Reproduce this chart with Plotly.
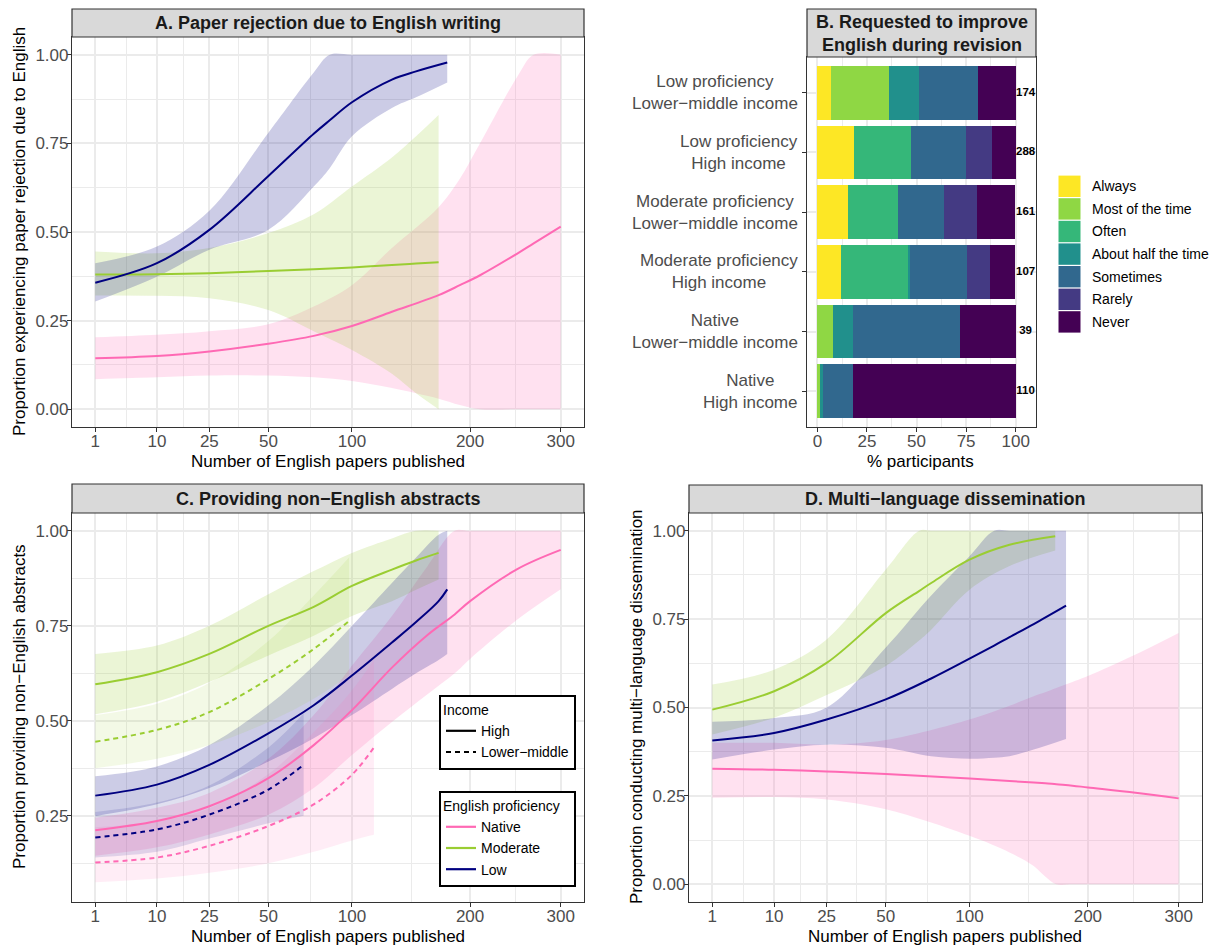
import numpy as np
import plotly.graph_objects as go

W, H = 1215, 947
FONT = "Liberation Sans, Arial, Helvetica, sans-serif"

# ---------------- colours ----------------
NATIVE_RGB, MOD_RGB, LOW_RGB = "255,105,180", "154,205,50", "0,0,128"
NATIVE_C, MOD_C, LOW_C = "#FF69B4", "#9ACD32", "#000080"

# ---------------- Panel A: paper rejection ----------------
a_low_x  = [1, 10, 25, 50, 75, 85, 100, 130, 150, 178]
a_low_y  = [0.357, 0.412, 0.506, 0.658, 0.777, 0.815, 0.866, 0.93, 0.953, 0.978]
a_low_hi = [0.412, 0.459, 0.56, 0.78, 0.95, 1.0, 1.0, 1.0, 1.0, 1.0]
a_low_lo = [0.304, 0.374, 0.45, 0.506, 0.628, 0.68, 0.77, 0.85, 0.88, 0.922]

a_mod_x  = [1, 10, 25, 50, 75, 100, 130, 150, 170]
a_mod_y  = [0.38, 0.381, 0.384, 0.39, 0.395, 0.40, 0.407, 0.411, 0.415]
a_mod_hi = [0.445, 0.44, 0.455, 0.497, 0.55, 0.628, 0.71, 0.77, 0.83]
a_mod_lo = [0.321, 0.32, 0.313, 0.28, 0.22, 0.167, 0.10, 0.045, 0.0]

a_nat_x  = [1, 10, 25, 50, 75, 100, 130, 170, 190, 210, 250, 268, 300]
a_nat_y  = [0.144, 0.15, 0.163, 0.185, 0.207, 0.235, 0.275, 0.322, 0.35, 0.378, 0.44, 0.468, 0.515]
a_nat_hi = [0.203, 0.21, 0.22, 0.24, 0.29, 0.35, 0.455, 0.57, 0.65, 0.75, 0.94, 1.0, 1.0]
a_nat_lo = [0.085, 0.09, 0.095, 0.095, 0.09, 0.08, 0.06, 0.03, 0.012, 0.0, 0.0, 0.0, 0.0]

# ---------------- Panel B: requested to improve English ----------------
b_categories = ["Low proficiency<br>Lower\u2212middle income", "Low proficiency<br>High income",
                "Moderate proficiency<br>Lower\u2212middle income", "Moderate proficiency<br>High income",
                "Native<br>Lower\u2212middle income", "Native<br>High income"]
b_n = [174, 288, 161, 107, 39, 110]
b_responses = ["Always", "Most of the time", "Often", "About half the time", "Sometimes", "Rarely", "Never"]
b_colors = ["#FDE725", "#8FD744", "#35B779", "#21908C", "#31688E", "#443A83", "#440154"]
b_always = [6.9, 18.4, 15.2, 12.1, 0.0, 0.0]
b_most   = [29.3, 0.0, 0.0, 0.0, 7.7, 1.8]
b_often  = [0.0, 28.7, 25.3, 33.6, 0.0, 0.0]
b_half   = [14.9, 0.0, 0.0, 0.9, 10.3, 0.9]
b_some   = [29.9, 27.7, 23.2, 29.0, 53.8, 15.5]
b_rarely = [0.0, 13.1, 16.6, 11.2, 0.0, 0.0]
b_never  = [19.0, 12.1, 19.6, 13.1, 28.2, 81.8]

# ---------------- Panel C: non-English abstracts ----------------
c_modh_x  = [1, 10, 25, 50, 75, 100, 130, 150, 170]
c_modh_y  = [0.596, 0.628, 0.676, 0.75, 0.80, 0.855, 0.898, 0.922, 0.942]
c_modh_hi = [0.676, 0.698, 0.75, 0.833, 0.894, 0.942, 0.98, 1.0, 1.0]
c_modh_lo = [0.517, 0.55, 0.602, 0.672, 0.724, 0.776, 0.815, 0.845, 0.872]

c_modl_x  = [1, 10, 25, 50, 75, 98]
c_modl_y  = [0.445, 0.476, 0.523, 0.61, 0.689, 0.763]
c_modl_hi = [0.515, 0.545, 0.60, 0.71, 0.83, 0.93]
c_modl_lo = [0.375, 0.40, 0.436, 0.497, 0.558, 0.62]

c_lowh_x  = [1, 10, 25, 50, 75, 100, 130, 150, 170, 178]
c_lowh_y  = [0.303, 0.332, 0.384, 0.467, 0.541, 0.619, 0.706, 0.76, 0.815, 0.846]
c_lowh_hi = [0.354, 0.38, 0.436, 0.541, 0.645, 0.75, 0.863, 0.93, 0.99, 1.0]
c_lowh_lo = [0.249, 0.28, 0.323, 0.393, 0.454, 0.515, 0.584, 0.625, 0.66, 0.676]

c_lowl_x  = [1, 10, 25, 50, 69]
c_lowl_y  = [0.193, 0.214, 0.253, 0.319, 0.384]
c_lowl_hi = [0.26, 0.285, 0.33, 0.43, 0.52]
c_lowl_lo = [0.14, 0.155, 0.19, 0.23, 0.25]

c_nath_x  = [1, 10, 25, 50, 75, 100, 130, 160, 185, 200, 250, 300]
c_nath_y  = [0.212, 0.236, 0.275, 0.349, 0.436, 0.528, 0.64, 0.726, 0.78, 0.815, 0.9, 0.95]
c_nath_hi = [0.245, 0.271, 0.31, 0.40, 0.515, 0.645, 0.776, 0.907, 1.0, 1.0, 1.0, 1.0]
c_nath_lo = [0.145, 0.167, 0.201, 0.253, 0.323, 0.41, 0.497, 0.57, 0.625, 0.663, 0.767, 0.846]

c_natl_x  = [1, 10, 25, 50, 75, 100, 116]
c_natl_y  = [0.127, 0.14, 0.171, 0.223, 0.28, 0.358, 0.43]
c_natl_hi = [0.22, 0.235, 0.27, 0.36, 0.47, 0.58, 0.66]
c_natl_lo = [0.075, 0.085, 0.10, 0.125, 0.155, 0.185, 0.20]

# ---------------- Panel D: multi-language dissemination ----------------
d_mod_x  = [1, 10, 25, 50, 68, 75, 100, 130, 169]
d_mod_y  = [0.494, 0.546, 0.626, 0.767, 0.83, 0.852, 0.918, 0.96, 0.984]
d_mod_hi = [0.565, 0.607, 0.692, 0.89, 1.0, 1.0, 1.0, 1.0, 1.0]
d_mod_lo = [0.424, 0.471, 0.535, 0.617, 0.69, 0.72, 0.833, 0.9, 0.944]

d_low_x  = [1, 10, 25, 50, 75, 100, 118, 130, 150, 179]
d_low_y  = [0.407, 0.428, 0.466, 0.523, 0.582, 0.638, 0.675, 0.699, 0.736, 0.788]
d_low_hi = [0.46, 0.47, 0.50, 0.67, 0.817, 0.928, 1.0, 1.0, 1.0, 1.0]
d_low_lo = [0.353, 0.381, 0.395, 0.386, 0.362, 0.355, 0.358, 0.362, 0.381, 0.411]

d_nat_x  = [1, 10, 25, 50, 100, 130, 150, 160, 170, 185, 200, 250, 300]
d_nat_y  = [0.327, 0.324, 0.319, 0.312, 0.299, 0.292, 0.288, 0.286, 0.283, 0.279, 0.274, 0.259, 0.243]
d_nat_hi = [0.40, 0.40, 0.395, 0.408, 0.466, 0.505, 0.532, 0.543, 0.555, 0.572, 0.589, 0.65, 0.711]
d_nat_lo = [0.245, 0.247, 0.24, 0.212, 0.137, 0.09, 0.052, 0.022, 0.0, 0.0, 0.0, 0.0, 0.0]

# ---------------- axis ticks ----------------
x_ticks = [1, 10, 25, 50, 100, 200, 300]
x_ticklabels = ["1", "10", "25", "50", "100", "200", "300"]
y_ticks_full = [0.0, 0.25, 0.5, 0.75, 1.0]
y_ticks_c = [0.25, 0.5, 0.75, 1.0]

# ---------------- helpers ----------------
def px(x):
    return x / W


def py(y):
    return 1 - y / H


fig = go.Figure()
SMOOTH = 1.0


def ribbon(x, lo, hi, rgb, alpha, xa, ya):
    sx = np.sqrt(np.array(x, dtype=float))
    fig.add_trace(go.Scatter(x=sx, y=lo, mode="lines", xaxis=xa, yaxis=ya,
                             line=dict(width=0, shape="spline", smoothing=SMOOTH),
                             hoverinfo="skip", showlegend=False))
    fig.add_trace(go.Scatter(x=sx, y=hi, mode="lines", xaxis=xa, yaxis=ya, fill="tonexty",
                             fillcolor=f"rgba({rgb},{alpha})",
                             line=dict(width=0, shape="spline", smoothing=SMOOTH),
                             hoverinfo="skip", showlegend=False))


def curve(x, y, color, xa, ya, dash="solid"):
    sx = np.sqrt(np.array(x, dtype=float))
    fig.add_trace(go.Scatter(x=sx, y=y, mode="lines", xaxis=xa, yaxis=ya,
                             line=dict(color=color, width=2, shape="spline", smoothing=SMOOTH, dash=dash),
                             showlegend=False))


DASH = "5px,4px"

# Panel A
ribbon(a_nat_x, a_nat_lo, a_nat_hi, NATIVE_RGB, 0.2, "x", "y")
ribbon(a_mod_x, a_mod_lo, a_mod_hi, MOD_RGB, 0.2, "x", "y")
ribbon(a_low_x, a_low_lo, a_low_hi, LOW_RGB, 0.2, "x", "y")
curve(a_nat_x, a_nat_y, NATIVE_C, "x", "y")
curve(a_mod_x, a_mod_y, MOD_C, "x", "y")
curve(a_low_x, a_low_y, LOW_C, "x", "y")

# Panel B
b_series = [b_always, b_most, b_often, b_half, b_some, b_rarely, b_never]
for name, col, vals in zip(b_responses, b_colors, b_series):
    fig.add_trace(go.Bar(x=vals, y=b_categories, orientation="h", name=name,
                         marker=dict(color=col, line=dict(width=0)), width=0.9,
                         xaxis="x2", yaxis="y2", showlegend=False))
fig.add_trace(go.Scatter(x=[105] * len(b_n), y=b_categories, mode="text",
                         text=[str(v) for v in b_n], texttemplate="<b>%{text}</b>",
                         textfont=dict(size=11.5, color="black", family=FONT),
                         xaxis="x2", yaxis="y2", showlegend=False, cliponaxis=False))

# Panel C
ribbon(c_nath_x, c_nath_lo, c_nath_hi, NATIVE_RGB, 0.2, "x3", "y3")
ribbon(c_modh_x, c_modh_lo, c_modh_hi, MOD_RGB, 0.2, "x3", "y3")
ribbon(c_lowh_x, c_lowh_lo, c_lowh_hi, LOW_RGB, 0.2, "x3", "y3")
ribbon(c_natl_x, c_natl_lo, c_natl_hi, NATIVE_RGB, 0.12, "x3", "y3")
ribbon(c_modl_x, c_modl_lo, c_modl_hi, MOD_RGB, 0.12, "x3", "y3")
ribbon(c_lowl_x, c_lowl_lo, c_lowl_hi, LOW_RGB, 0.12, "x3", "y3")
curve(c_nath_x, c_nath_y, NATIVE_C, "x3", "y3")
curve(c_modh_x, c_modh_y, MOD_C, "x3", "y3")
curve(c_lowh_x, c_lowh_y, LOW_C, "x3", "y3")
curve(c_natl_x, c_natl_y, NATIVE_C, "x3", "y3", DASH)
curve(c_modl_x, c_modl_y, MOD_C, "x3", "y3", DASH)
curve(c_lowl_x, c_lowl_y, LOW_C, "x3", "y3", DASH)

# legends for panel C (dummy entries)
for nm, dsh in [("High", "solid"), ("Lower\u2212middle", DASH)]:
    fig.add_trace(go.Scatter(x=[None], y=[None], mode="lines", name=nm, legend="legend2",
                             line=dict(color="black", width=2.2, dash=dsh),
                             xaxis="x3", yaxis="y3", showlegend=True))
for nm, col in [("Native", NATIVE_C), ("Moderate", MOD_C), ("Low", LOW_C)]:
    fig.add_trace(go.Scatter(x=[None], y=[None], mode="lines", name=nm, legend="legend3",
                             line=dict(color=col, width=2.2),
                             xaxis="x3", yaxis="y3", showlegend=True))

# Panel D
ribbon(d_nat_x, d_nat_lo, d_nat_hi, NATIVE_RGB, 0.2, "x4", "y4")
ribbon(d_mod_x, d_mod_lo, d_mod_hi, MOD_RGB, 0.2, "x4", "y4")
ribbon(d_low_x, d_low_lo, d_low_hi, LOW_RGB, 0.2, "x4", "y4")
curve(d_nat_x, d_nat_y, NATIVE_C, "x4", "y4")
curve(d_mod_x, d_mod_y, MOD_C, "x4", "y4")
curve(d_low_x, d_low_y, LOW_C, "x4", "y4")

# ---------------- axes ----------------
GRID = "#EBEBEB"
sq_lo, sq_hi = 1.0, np.sqrt(300.0)
sq_pad = 0.05 * (sq_hi - sq_lo)
sq_major = np.sqrt(np.array(x_ticks, dtype=float))
sq_minor = (sq_major[:-1] + sq_major[1:]) / 2

common = dict(showline=True, mirror=True, linecolor="#333333", linewidth=1.2,
              ticks="outside", ticklen=4, tickwidth=1, tickcolor="#333333",
              tickfont=dict(size=17, color="#4D4D4D", family=FONT),
              showgrid=True, gridcolor=GRID, gridwidth=1.9, zeroline=False)


def xsqrt(domain, anchor):
    d = dict(common)
    d.update(domain=domain, anchor=anchor, range=[sq_lo - sq_pad, sq_hi + sq_pad],
             tickmode="array", tickvals=sq_major, ticktext=x_ticklabels, ticklabelstandoff=-6,
             minor=dict(tickvals=sq_minor, showgrid=True, gridcolor=GRID, gridwidth=1))
    return d


def yprop(domain, anchor, rng, ticks):
    d = dict(common)
    d.update(domain=domain, anchor=anchor, range=rng, tickmode="array",
             tickvals=ticks, ticktext=[f"{t:.2f}" for t in ticks], ticklabelstandoff=-5,
             minor=dict(tickvals=[0.125, 0.375, 0.625, 0.875], showgrid=True,
                        gridcolor=GRID, gridwidth=1))
    return d


A_x, A_y = [px(72), px(584)], [py(427), py(37)]
B_x, B_y = [px(807), px(1036)], [py(427), py(57)]
C_x, C_y = [px(72), px(584)], [py(902), py(513)]
D_x, D_y = [px(689), px(1202)], [py(902), py(513)]

xb = dict(common)
xb.update(domain=B_x, anchor="y2", range=[-5.25, 110.25], tickmode="array",
          tickvals=[0, 25, 50, 75, 100], ticktext=["0", "25", "50", "75", "100"],
          ticklabelstandoff=-6,
          minor=dict(tickvals=[12.5, 37.5, 62.5, 87.5], showgrid=True, gridcolor=GRID, gridwidth=1))
yb = dict(common)
yb.update(domain=B_y, anchor="x2", type="category", categoryorder="array",
          categoryarray=b_categories, range=[5.6, -0.6], showticklabels=False)

NB = "\u00a0"
fig.update_layout(
    width=W, height=H, margin=dict(l=0, r=0, t=0, b=0),
    paper_bgcolor="white", plot_bgcolor="white",
    font=dict(family=FONT, color="black"),
    barmode="stack", bargap=0.1, showlegend=True,
    xaxis=xsqrt(A_x, "y"), yaxis=yprop(A_y, "x", [-0.05, 1.05], y_ticks_full),
    xaxis2=xb, yaxis2=yb,
    xaxis3=xsqrt(C_x, "y3"), yaxis3=yprop(C_y, "x3", [0.023, 1.047], y_ticks_c),
    xaxis4=xsqrt(D_x, "y4"), yaxis4=yprop(D_y, "x4", [-0.05, 1.05], y_ticks_full),
    legend2=dict(title=dict(text="Income", font=dict(size=14, color="black")),
                 x=px(439), y=py(695), xanchor="left", yanchor="top",
                 bgcolor="white", bordercolor="black", borderwidth=2,
                 font=dict(size=14, color="black", family=FONT), itemwidth=30,
                 tracegroupgap=0),
    legend3=dict(title=dict(text="English proficiency" + NB * 3, font=dict(size=14, color="black")),
                 x=px(439), y=py(791), xanchor="left", yanchor="top",
                 bgcolor="white", bordercolor="black", borderwidth=2,
                 font=dict(size=14, color="black", family=FONT), itemwidth=30,
                 tracegroupgap=0),
)

# ---------------- strips, titles, labels ----------------
shapes = []
annotations = []
strips = [
    (72, 584, 9, 37, "A. Paper rejection due to English writing"),
    (807, 1036, 9, 57, "B. Requested to improve<br>English during revision"),
    (72, 584, 484, 513, "C. Providing non\u2212English abstracts"),
    (689, 1202, 485, 513, "D. Multi\u2212language dissemination"),
]
for x0, x1, y0, y1, txt in strips:
    shapes.append(dict(type="rect", xref="paper", yref="paper", x0=px(x0), x1=px(x1),
                       y0=py(y1), y1=py(y0), fillcolor="#D9D9D9",
                       line=dict(color="#333333", width=1.2), layer="above"))
    annotations.append(dict(xref="paper", yref="paper", x=px((x0 + x1) / 2), y=py((y0 + y1) / 2),
                            text=txt, showarrow=False, xanchor="center", yanchor="middle",
                            font=dict(size=18, color="#1A1A1A", family=FONT, weight="bold")))

axis_titles = [
    (19, 232, "Proportion experiencing paper rejection due to English", -90),
    (328, 461, "Number of English papers published", 0),
    (921, 461, "% participants", 0),
    (19, 707, "Proportion providing non\u2212English abstracts", -90),
    (328, 936, "Number of English papers published", 0),
    (636, 707, "Proportion conducting multi\u2212language dissemination", -90),
    (945, 936, "Number of English papers published", 0),
]
for x, y, txt, ang in axis_titles:
    annotations.append(dict(xref="paper", yref="paper", x=px(x), y=py(y), text=txt,
                            showarrow=False, textangle=ang, xanchor="center", yanchor="middle",
                            font=dict(size=17, color="black", family=FONT)))

# panel B category labels (centred multi-line)
for i, cat in enumerate(b_categories):
    annotations.append(dict(xref="paper", yref="y2", x=px(800), y=i, text=cat,
                            showarrow=False, xanchor="right", yanchor="middle", align="center",
                            font=dict(size=17, color="#4D4D4D", family=FONT)))

# panel B legend (keys and labels)
key_top, key_h = 175, 22.6
for i, (name, col) in enumerate(zip(b_responses, b_colors)):
    t = key_top + i * key_h
    shapes.append(dict(type="rect", xref="paper", yref="paper", x0=px(1058.5), x1=px(1080.5),
                       y0=py(t + key_h - 0.6), y1=py(t + 0.6), fillcolor=col,
                       line=dict(width=0)))
    annotations.append(dict(xref="paper", yref="paper", x=px(1090), y=py(t + key_h / 2),
                            text=name, showarrow=False, xanchor="left", yanchor="middle",
                            font=dict(size=14, color="black", family=FONT)))

fig.update_layout(shapes=shapes, annotations=annotations)
fig.write_html("out.html")
